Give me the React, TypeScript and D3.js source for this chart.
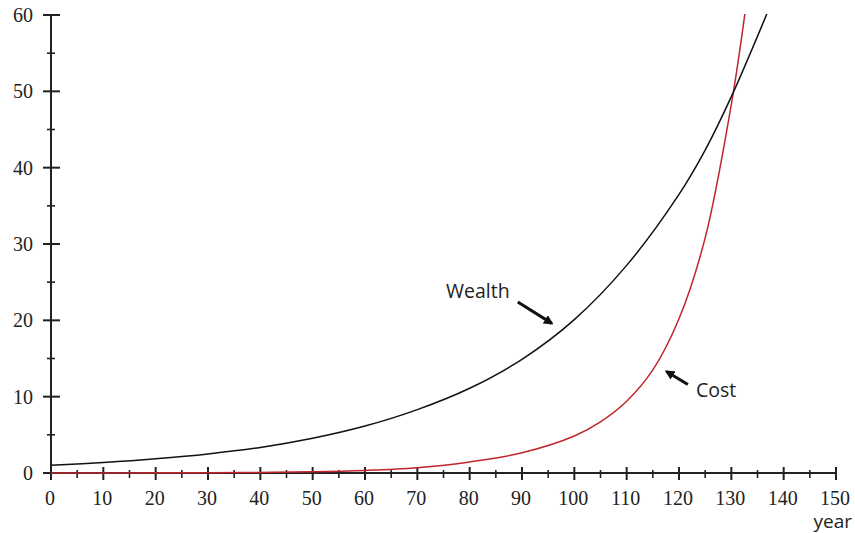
import React from 'react';
import * as d3 from 'd3';

// values
const wealthYears = [0, 10, 20, 30, 40, 50, 60, 70, 80, 90, 100, 110, 120, 125, 130, 137];
const wealthValues = [1.0, 1.38, 1.87, 2.5, 3.35, 4.55, 6.15, 8.3, 11.1, 14.9, 20.1, 27.2, 36.5, 42.3, 49.3, 60.5];

const costYears = [0, 10, 20, 30, 40, 50, 60, 70, 80, 90, 100, 105, 110, 115, 120, 125, 130, 132.6];
const costValues = [0, 0.01, 0.02, 0.04, 0.08, 0.16, 0.34, 0.7, 1.45, 2.65, 4.85, 6.7, 9.4, 13.5, 20.2, 30.8, 48.3, 60.2];

const xTicks = [0, 10, 20, 30, 40, 50, 60, 70, 80, 90, 100, 110, 120, 130, 140, 150];
const yTicks = [0, 10, 20, 30, 40, 50, 60];

const width = 855;
const height = 533;

const App = () => {
  const x = d3.scaleLinear().domain([0, 150]).range([51, 836]);
  const y = d3.scaleLinear().domain([0, 60]).range([473, 15]);

  const wealth = wealthYears.map((t, i) => [t, wealthValues[i]] as [number, number]);
  const cost = costYears.map((t, i) => [t, costValues[i]] as [number, number]);

  const line = d3
    .line<[number, number]>()
    .x((d) => x(d[0]))
    .y((d) => y(d[1]))
    .curve(d3.curveCatmullRom.alpha(0.5));

  const xMinor = d3.range(5, 150, 10);
  const yMinor = d3.range(5, 60, 10);

  const axisColor = '#222';
  const tickFont = { fontFamily: "'Liberation Serif', 'Times New Roman', 'DejaVu Serif', serif" };
  const labelFont = { fontFamily: "'Open Sans', 'Noto Sans', sans-serif" };

  return (
    <div style={{ position: 'absolute', left: 0, top: 0 }}>
      <svg width={width} height={height} style={{ display: 'block', background: '#fff' }}>
        <defs>
          <clipPath id="plot">
            <rect x={x(0)} y={y(60) - 1} width={x(150) - x(0)} height={y(0) - y(60) + 2} />
          </clipPath>
          <marker id="head" viewBox="0 0 10 10" refX="8" refY="5" markerWidth="3.2" markerHeight="3.2" orient="auto">
            <path d="M0,0 L10,5 L0,10 z" fill="#111" />
          </marker>
        </defs>

        {/* y axis */}
        <line x1={x(0)} x2={x(0)} y1={y(60)} y2={y(0)} stroke={axisColor} strokeWidth={2} />
        {yTicks.map((t) => (
          <g key={`y${t}`}>
            <line x1={x(0) - 8} x2={x(0) + 9} y1={y(t)} y2={y(t)} stroke={axisColor} strokeWidth={2} />
            <text x={x(0) - 18} y={y(t) + 7} textAnchor="end" style={tickFont} fontSize={20} fill="#222">
              {t}
            </text>
          </g>
        ))}
        {yMinor.map((t) => (
          <line key={`ym${t}`} x1={x(0) - 4} x2={x(0) + 4} y1={y(t)} y2={y(t)} stroke={axisColor} strokeWidth={1.6} />
        ))}

        {/* x axis */}
        <line x1={x(0) - 8} x2={x(150)} y1={y(0)} y2={y(0)} stroke={axisColor} strokeWidth={2} />
        {xTicks.map((t) => (
          <g key={`x${t}`}>
            <line x1={x(t)} x2={x(t)} y1={y(0) - 6} y2={y(0) + 7} stroke={axisColor} strokeWidth={2} />
            <text x={x(t) - 1} y={505} textAnchor="middle" style={tickFont} fontSize={20} fill="#222">
              {t}
            </text>
          </g>
        ))}
        {xMinor.map((t) => (
          <line key={`xm${t}`} x1={x(t)} x2={x(t)} y1={y(0) - 3} y2={y(0) + 5} stroke={axisColor} strokeWidth={1.6} />
        ))}
        <text x={852} y={528} textAnchor="end" style={labelFont} fontSize={19} fill="#222">
          year
        </text>

        {/* curves */}
        <g clipPath="url(#plot)">
          <path d={line(cost) ?? ''} fill="none" stroke="#c0262c" strokeWidth={1.5} />
          <path d={line(wealth) ?? ''} fill="none" stroke="#111" strokeWidth={1.5} />
        </g>

        {/* annotations */}
        <text x={446} y={298} style={labelFont} fontSize={19.5} fill="#222">
          Wealth
        </text>
        <line x1={x(89.2)} y1={y(22.4)} x2={x(95.7)} y2={y(19.6)} stroke="#111" strokeWidth={3} markerEnd="url(#head)" />
        <text x={696} y={397} style={labelFont} fontSize={19.5} fill="#222">
          Cost
        </text>
        <line x1={x(121.7)} y1={y(11.6)} x2={x(117.6)} y2={y(13.3)} stroke="#111" strokeWidth={3} markerEnd="url(#head)" />
      </svg>
    </div>
  );
};

export default App;
